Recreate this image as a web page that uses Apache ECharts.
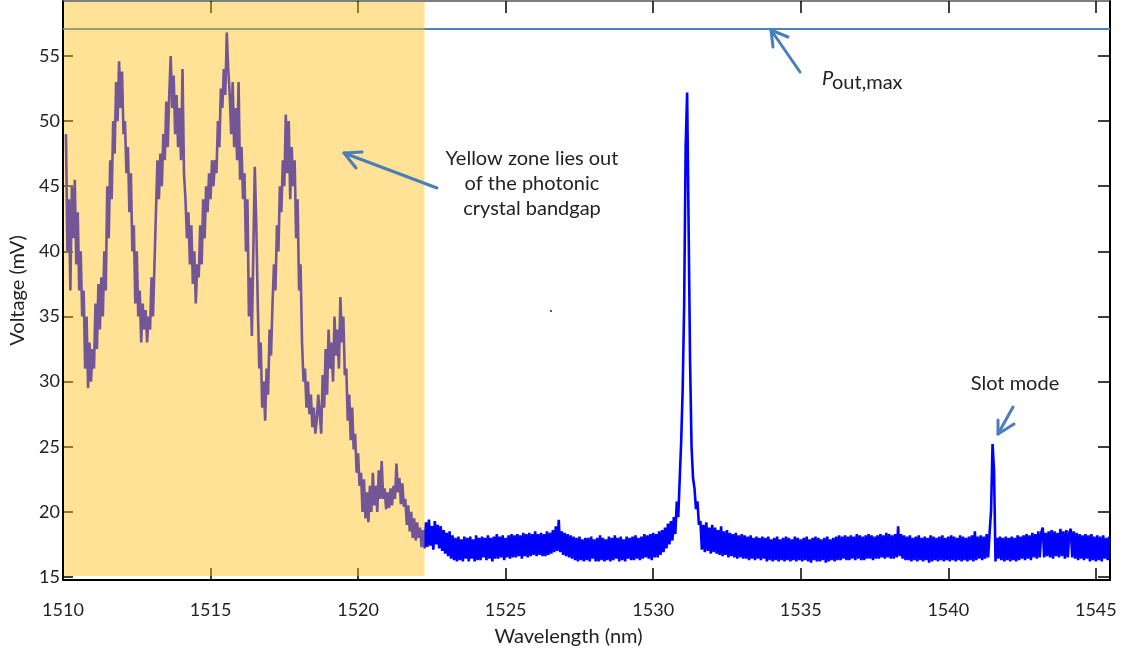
<!DOCTYPE html>
<html>
<head>
<meta charset="utf-8">
<script src="https://cdn.jsdelivr.net/npm/echarts@6/dist/echarts.min.js"></script>
<style>
  html, body { margin: 0; padding: 0; background: #fff; }
  #main { width: 1128px; height: 659px; }
</style>
</head>
<body>
<div id="main"></div>
<script>
// trace sampling: first wavelength and step (nm)
const wlStart = 1510.10;
const wlStep = 0.05;

// out of the bandgap (yellow zone)
const voltsYellow = [
  49, 40, 44, 37, 45, 41, 45.5, 39, 43, 37,
  40, 35, 37, 31, 35, 29.5, 33, 30, 32.5, 31,
  36, 32.5, 37.5, 34, 38, 35, 40, 37, 45, 41,
  47, 44, 50, 47.5, 53, 50, 54.6, 51, 53.8, 49,
  50, 46, 48, 43, 46, 40, 42, 36, 40, 35,
  37, 33, 36, 34, 35.5, 33, 35, 34, 38, 35,
  39, 43, 47, 44, 47.5, 45, 49, 47, 51.5, 48,
  52, 55, 51, 53.5, 49, 52, 48, 51, 47, 54,
  46, 44, 41, 43, 39, 42, 37.5, 40, 36, 39,
  38, 42, 39, 44, 41, 45, 43, 46, 44, 47,
  45, 47, 46, 50, 48, 52.5, 51, 54, 52, 56.8,
  54, 52, 49, 53, 48, 51, 47, 53, 45.5, 48,
  44, 46, 40, 44, 35, 38, 33.5, 40, 46.5, 42,
  36, 31, 33, 28, 30, 27, 31, 29, 34, 32,
  36, 39, 37, 42, 40, 45, 43, 47, 45, 50.5,
  46, 50, 44, 48, 45, 47, 41, 44, 37, 39,
  33, 30, 31, 28, 30, 27.5, 29, 26.5, 28, 26,
  27, 29, 27.5, 26, 30.5, 28, 32.5, 29, 34, 31,
  33, 30, 35, 32, 34, 31, 36.5, 33, 35, 30.5,
  31, 27, 29, 25.5, 28, 24.8, 26, 23, 24.5, 22,
  23, 20, 22.5, 19.5, 21.5, 19.2, 22, 20, 23, 20.5,
  22, 20, 23.2, 21, 23.9, 21, 21.8, 20.2, 21.5, 20.3,
  21.8, 20.5, 22, 21, 23.7, 21.5, 22.6, 20.6, 22.2, 20.4,
  21, 19, 20.5, 18.5, 20, 18, 19.5, 17.8, 19.2, 18,
  18.8, 17.3, 18.6, 17.2
];

// baseline up to the main resonance
const voltsBaseLeft = [
  19.2, 17.3, 19.4, 17.4, 18.9, 17.1, 19.3, 17.5, 19.0, 17.2,
  18.9, 17.0, 18.6, 16.8, 18.4, 16.6, 18.5, 16.4, 18.2, 16.3,
  18.0, 16.2, 18.1, 16.3, 17.9, 16.2, 18.1, 16.4, 18.0, 16.2,
  18.1, 16.4, 17.9, 16.2, 18.2, 16.3, 18.0, 16.3, 18.1, 16.5,
  18.0, 16.3, 18.2, 16.4, 18.0, 16.2, 18.1, 16.4, 18.3, 16.4,
  18.1, 16.5, 18.2, 16.3, 18.0, 16.5, 18.2, 16.4, 18.3, 16.5,
  18.2, 16.5, 18.3, 16.6, 18.2, 16.4, 18.4, 16.6, 18.3, 16.5,
  18.4, 16.6, 18.3, 16.7, 18.5, 16.6, 18.3, 16.7, 18.4, 16.6,
  18.3, 16.6, 18.5, 16.7, 18.4, 16.8, 18.6, 16.9, 18.9, 17.0,
  19.4, 16.9, 18.5, 16.7, 18.4, 16.6, 18.3, 16.5, 18.2, 16.4,
  18.1, 16.3, 18.0, 16.2, 18.1, 16.3, 17.9, 16.2, 18.0, 16.3,
  18.0, 16.2, 18.1, 16.4, 17.9, 16.2, 18.0, 16.2, 18.2, 16.3,
  18.0, 16.2, 17.9, 16.3, 18.1, 16.2, 18.0, 16.3, 18.2, 16.4,
  18.0, 16.2, 18.1, 16.3, 17.9, 16.2, 18.1, 16.4, 18.0, 16.3,
  18.1, 16.3, 18.2, 16.4, 18.0, 16.3, 18.1, 16.4, 18.3, 16.5,
  18.2, 16.4, 18.3, 16.3, 18.4, 16.5, 18.3, 16.5, 18.5, 16.7,
  18.6, 16.9, 18.8, 17.2, 19.1, 17.5, 19.3, 17.8, 19.6, 18.3
];

// main resonance near 1531 nm
const voltsMainPeak = [
  20.8, 19.6, 22.6, 25.5, 29.5, 36, 48, 52.2,
  42, 31.5, 25, 22.6, 21.8, 20.2, 20.8, 19.0
];

const voltsBaseMid = [
  19.3, 17.1, 19.0, 16.9, 19.2, 17.0, 18.8, 16.8, 19.0, 16.9,
  18.8, 16.8, 18.6, 16.7, 18.9, 16.6, 18.5, 16.7, 18.6, 16.5,
  18.4, 16.6, 18.3, 16.5, 18.4, 16.4, 18.2, 16.5, 18.3, 16.4,
  18.2, 16.4, 18.1, 16.3, 18.2, 16.4, 18.0, 16.3, 18.1, 16.4,
  18.0, 16.3, 18.1, 16.4, 18.0, 16.2, 18.1, 16.3, 17.9, 16.2,
  18.0, 16.3, 18.1, 16.2, 17.9, 16.3, 18.0, 16.2, 18.1, 16.3,
  18.0, 16.2, 17.9, 16.3, 18.1, 16.2, 18.0, 16.3, 17.9, 16.2,
  18.0, 16.3, 18.1, 16.2, 17.9, 16.1, 18.0, 16.3, 18.1, 16.2,
  18.0, 16.2, 17.9, 16.3, 18.0, 16.1, 18.1, 16.2, 17.9, 16.3,
  18.0, 16.2, 18.1, 16.3, 18.2, 16.3, 18.1, 16.4, 18.2, 16.3,
  18.1, 16.3, 18.2, 16.4, 18.1, 16.3, 18.3, 16.4, 18.2, 16.3,
  18.1, 16.3, 18.2, 16.4, 18.3, 16.4, 18.2, 16.3, 18.1, 16.4,
  18.2, 16.4, 18.3, 16.5, 18.2, 16.4, 18.4, 16.5, 18.3, 16.4,
  18.2, 16.4, 18.3, 16.5, 18.9, 16.6, 18.3, 16.4, 18.2, 16.3,
  18.1, 16.3, 18.2, 16.2, 18.0, 16.3, 18.1, 16.2, 18.2, 16.3,
  18.0, 16.2, 18.1, 16.3, 18.0, 16.1, 18.2, 16.2, 18.1, 16.3,
  18.0, 16.2, 18.1, 16.3, 18.2, 16.2, 18.0, 16.3, 18.1, 16.2,
  18.2, 16.3, 18.1, 16.2, 18.0, 16.3, 18.2, 16.2, 18.1, 16.3,
  18.0, 16.2, 18.1, 16.3, 18.2, 16.2, 18.5, 16.3, 18.1, 16.4
];

// slot mode near 1541.5 nm
const voltsSlot = [18.2, 16.3, 18.1, 16.4, 18.3, 16.5, 18.4, 20.1, 25.2, 23.2];

const voltsBaseRight = [
  16.2, 18.0, 16.4, 18.1, 16.3, 18.0, 16.2, 18.1, 16.3, 18.0,
  16.2, 18.1, 16.3, 18.0, 16.2, 18.2, 16.3, 18.1, 16.4, 18.2,
  16.3, 18.3, 16.4, 18.2, 16.3, 18.4, 16.5, 18.3, 16.4, 18.5,
  16.5, 18.4, 18.8, 16.5, 18.4, 16.6, 18.5, 16.5, 18.6, 16.4,
  18.5, 16.6, 18.4, 16.5, 18.7, 16.6, 18.5, 16.4, 18.6, 16.5,
  18.4, 18.7, 16.5, 18.5, 16.4, 18.4, 16.3, 18.3, 16.4, 18.2,
  16.3, 18.3, 16.4, 18.2, 16.2, 18.3, 16.3, 18.1, 16.2, 18.2,
  16.3, 18.1, 16.2, 18.2, 16.4, 18.0, 16.3, 18.1
];

const yTicks = [15, 20, 25, 30, 35, 40, 45, 50, 55];
const pOutMax = 57.07;
const bandgapEdge = 1522.25;

const volts = [].concat(voltsYellow, voltsBaseLeft, voltsMainPeak, voltsBaseMid, voltsSlot, voltsBaseRight);
const trace = volts.map((v, i) => [+(wlStart + i * wlStep).toFixed(2), v]);

const FONT = 'Lato';
const arrowColor = '#4a7ebb';

const myChart = echarts.init(document.getElementById('main'));

const arrow = (pts) => ({
  type: 'polyline',
  silent: true,
  z: 20,
  shape: { points: pts },
  style: { stroke: arrowColor, lineWidth: 3, fill: null, lineCap: 'round', lineJoin: 'round' }
});

const option = {
  animation: false,
  grid: { left: 62, right: 18, top: 1, bottom: 79 },
  xAxis: [
    {
      type: 'value',
      min: 1510,
      max: 1545.48,
      interval: 5,
      name: 'Wavelength (nm)',
      nameLocation: 'middle',
      nameGap: 47,
      nameTextStyle: { fontFamily: FONT, fontSize: 20, color: '#222', padding: [0, 36, 0, 0] },
      axisLine: { lineStyle: { color: '#000', width: 2 } },
      axisTick: { inside: true, length: 12, lineStyle: { color: '#000', width: 1.5 } },
      axisLabel: {
        margin: 21, fontFamily: FONT, fontSize: 18, color: '#222', showMinLabel: true,
        formatter: (v) => String(v)
      },
      splitLine: { show: false }
    },
    {
      type: 'value',
      position: 'top',
      min: 1510,
      max: 1545.48,
      interval: 5,
      axisLine: { lineStyle: { color: '#555', width: 1.5 } },
      axisTick: { inside: true, length: 12, lineStyle: { color: '#000', width: 1.5 } },
      axisLabel: { show: false },
      splitLine: { show: false }
    }
  ],
  yAxis: [
    {
      type: 'value',
      min: 14.77,
      max: 59.22,
      name: 'Voltage (mV)',
      nameLocation: 'middle',
      nameGap: 35,
      nameTextStyle: { fontFamily: FONT, fontSize: 20, color: '#222' },
      axisLine: { show: true, lineStyle: { color: '#000', width: 2 } },
      axisTick: { show: true, inside: true, length: 10, customValues: yTicks, lineStyle: { color: '#000', width: 1.5 } },
      axisLabel: { margin: 3, fontFamily: FONT, fontSize: 18, color: '#222', customValues: yTicks },
      splitLine: { show: false }
    },
    {
      type: 'value',
      position: 'right',
      min: 14.77,
      max: 59.22,
      axisLine: { show: true, lineStyle: { color: '#000', width: 2 } },
      axisTick: { show: true, inside: true, length: 12, customValues: yTicks, lineStyle: { color: '#000', width: 1.5 } },
      axisLabel: { show: false },
      splitLine: { show: false }
    }
  ],
  series: [
    {
      type: 'line',
      data: trace,
      xAxisIndex: 0,
      yAxisIndex: 0,
      showSymbol: false,
      symbol: 'none',
      sampling: null,
      lineStyle: { color: '#0000ff', width: 2.6 },
      z: 2,
      markLine: {
        silent: true,
        symbol: 'none',
        z: 4,
        label: { show: false },
        lineStyle: { color: '#4f81bd', width: 2, type: 'solid' },
        data: [{ yAxis: pOutMax }]
      },
      markArea: {
        silent: true,
        z: 10,
        itemStyle: { color: 'rgba(255,190,20,0.45)' },
        data: [[{ xAxis: 1510.04, yAxis: 15.08 }, { xAxis: bandgapEdge, yAxis: 59.15 }]]
      }
    }
  ],
  graphic: [
    // Pout,max arrow
    arrow([[800, 72], [771, 30]]),
    arrow([[773, 47], [771, 30], [788, 37]]),
    // yellow zone arrow
    arrow([[437, 188], [344, 153]]),
    arrow([[356, 168], [344, 153], [362, 152]]),
    // slot mode arrow
    arrow([[1013, 407], [998, 434]]),
    arrow([[998, 420], [998, 434], [1014, 424]]),
    {
      type: 'text', x: 822, y: 79, z: 20, silent: true,
      style: { text: 'P', font: 'italic 20px ' + FONT, fill: '#222', verticalAlign: 'middle' }
    },
    {
      type: 'text', x: 832, y: 83, z: 20, silent: true,
      style: { text: 'out,max', font: '20px ' + FONT, fill: '#222', verticalAlign: 'middle' }
    },
    {
      type: 'text', x: 532, y: 184, z: 20, silent: true,
      style: {
        text: 'Yellow zone lies out\nof the photonic\ncrystal bandgap',
        font: '20px ' + FONT, fill: '#222', align: 'center', verticalAlign: 'middle', lineHeight: 25
      }
    },
    {
      type: 'text', x: 1015, y: 384, z: 20, silent: true,
      style: { text: 'Slot mode', font: '20px ' + FONT, fill: '#222', align: 'center', verticalAlign: 'middle' }
    },
    {
      type: 'circle', silent: true, z: 20,
      shape: { cx: 551, cy: 311, r: 1 },
      style: { fill: '#222' }
    }
  ]
};

myChart.setOption(option);
</script>
</body>
</html>
